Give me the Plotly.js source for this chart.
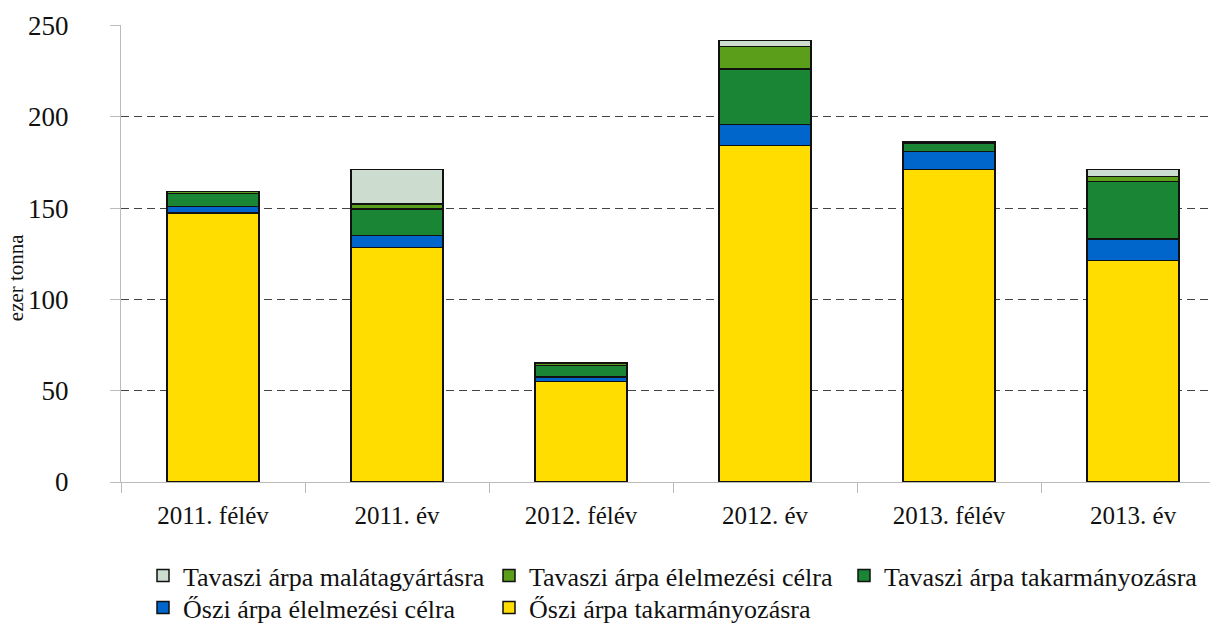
<!DOCTYPE html>
<html>
<head>
<meta charset="utf-8">
<script src="https://cdn.plot.ly/plotly-3.0.1.min.js"></script>
<style>html,body{margin:0;padding:0;background:#fff;}#chart{width:1218px;height:628px;}</style>
</head>
<body>
<div id="chart"></div>
<script>
const categories = ["2011. félév", "2011. év", "2012. félév", "2012. év", "2013. félév", "2013. év"];
const osziTakarmany = [147.3, 128.4, 55.1, 184.4, 171.1, 121.3];
const osziElelmezesi = [3.5, 6.7, 2.5, 11.4, 10.0, 11.8];
const tavasziTakarmany = [7.1, 14.4, 6.2, 30.5, 4.5, 31.4];
const tavasziElelmezesi = [1.1, 2.9, 1.5, 12.2, 0.8, 2.9];
const tavasziMalata = [0, 18.7, 0, 3.3, 0, 3.7];
const seriesNames = ["Őszi árpa takarmányozásra", "Őszi árpa élelmezési célra", "Tavaszi árpa takarmányozásra", "Tavaszi árpa élelmezési célra", "Tavaszi árpa malátagyártásra"];
const yTicks = [0, 50, 100, 150, 200, 250];

const colors = ["#FFDD00", "#0066CC", "#1A8535", "#5A9E1A", "#CCDDCF"];
const values = [osziTakarmany, osziElelmezesi, tavasziTakarmany, tavasziElelmezesi, tavasziMalata];
const legendIds = ["legend5", "legend4", "legend3", "legend2", "legend"];

const traces = values.map((v, i) => ({
  type: "bar",
  name: seriesNames[i],
  x: categories,
  y: v,
  legend: legendIds[i],
  marker: {color: colors[i], line: {color: "#111", width: 1.5}},
  hoverinfo: "skip"
}));

const font = "Liberation Serif, Times New Roman, serif";
function leg(xpx, ypx) {
  return {
    orientation: "h",
    xref: "container", yref: "container",
    x: xpx / 1218, xanchor: "left", y: 1 - ypx / 628, yanchor: "top",
    font: {family: font, size: 26, color: "#111"},
    itemwidth: 30, bgcolor: "rgba(0,0,0,0)"
  };
}
const row1 = 552, row2 = 584;
const layout = {
  width: 1218, height: 628,
  margin: {l: 121, r: 8, t: 25, b: 146, autoexpand: false},
  barmode: "stack",
  bargap: 0.5,
  paper_bgcolor: "#fff", plot_bgcolor: "#fff",
  font: {family: font, size: 24, color: "#111"},
  showlegend: true,
  legend: leg(143, row1),
  legend2: leg(489, row1),
  legend3: leg(844, row1),
  legend4: leg(143, row2),
  legend5: leg(489, row2),
  xaxis: {
    type: "category",
    range: [-0.5, 5.418],
    showline: true, linecolor: "#BBBBBB", linewidth: 1,
    ticks: "outside", tickson: "boundaries", ticklen: 10, tickcolor: "#BBBBBB",
    showgrid: false, zeroline: false,
    tickfont: {family: font, size: 25, color: "#111"},
    ticklabelstandoff: 11
  },
  yaxis: {
    range: [0, 250.3],
    tickvals: yTicks,
    showline: true, linecolor: "#BBBBBB", linewidth: 1,
    ticks: "outside", ticklen: 10, tickcolor: "#BBBBBB",
    showgrid: true, gridcolor: "#444", gridwidth: 1, griddash: "8px,5px",
    zeroline: false,
    tickfont: {family: font, size: 27, color: "#111"},
    ticklabelstandoff: 36
  },
  annotations: [{
    text: "ezer tonna", textangle: -90,
    xref: "paper", yref: "paper", x: -0.097, y: 0.449,
    xanchor: "center", yanchor: "middle", showarrow: false,
    font: {family: font, size: 21, color: "#111"}
  }]
};

Plotly.newPlot("chart", traces, layout, {displayModeBar: false, staticPlot: true});
</script>
</body>
</html>
